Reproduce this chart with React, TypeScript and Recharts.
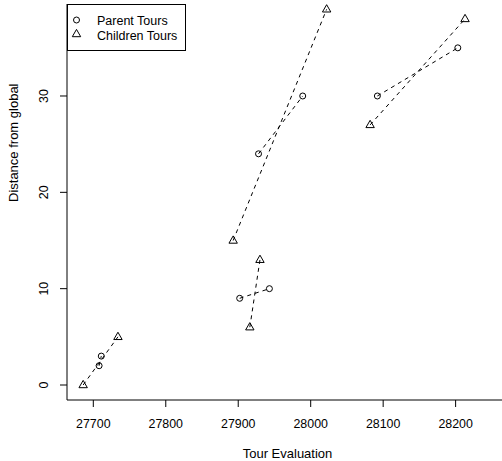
import { ScatterChart, Scatter, XAxis, YAxis } from 'recharts'

// each pair of tours is joined by its own dashed segment
const parentEval = [
  [27708, 27711],
  [27928, 27989],
  [27902, 27943],
  [28092, 28203],
]
const parentDist = [
  [2, 3],
  [24, 30],
  [9, 10],
  [30, 35],
]
const childEval = [
  [27686, 27734],
  [27893, 28022],
  [27916, 27930],
  [28082, 28213],
]
const childDist = [
  [0, 5],
  [15, 39],
  [6, 13],
  [27, 38],
]
const xTicks = [27700, 27800, 27900, 28000, 28100, 28200]
const yTicks = [0, 10, 20, 30]
const legendLabels = ['Parent Tours', 'Children Tours']

const FONT = '"Liberation Sans", Arial, sans-serif'

const toPoints = (xs: number[], ys: number[]) => xs.map((x, i) => ({ x, y: ys[i] }))

const Circle = (props: any) => {
  const { cx, cy } = props
  return <circle cx={cx} cy={cy} r={3} fill="none" stroke="#000" strokeWidth={1} />
}

const Triangle = (props: any) => {
  const { cx, cy } = props
  return (
    <path
      d={`M${cx},${cy - 4.6}L${cx - 4.2},${cy + 2.7}L${cx + 4.2},${cy + 2.7}Z`}
      fill="none"
      stroke="#000"
      strokeWidth={1}
    />
  )
}

const YTick = (props: any) => {
  const { x, y, payload } = props
  return (
    <text
      x={x}
      y={y}
      transform={`rotate(-90, ${x}, ${y})`}
      textAnchor="middle"
      fontSize={12.4}
      fontFamily={FONT}
      fill="#000"
    >
      {payload.value}
    </text>
  )
}

const dash = { stroke: '#000', strokeWidth: 1, strokeDasharray: '4 4' }

export default function App() {
  return (
    <div style={{ position: 'absolute', left: 0, top: 0, width: 502, height: 461, background: '#fff', overflow: 'hidden' }}>
      <ScatterChart width={502} height={461} margin={{ top: 4, right: 0, left: 0, bottom: 0 }}>
        <XAxis
          type="number"
          dataKey="x"
          domain={[27663.7, 28264]}
          allowDataOverflow
          ticks={xTicks}
          tickSize={7}
          tickMargin={12}
          height={61}
          stroke="#000"
          tick={{ fontSize: 12.4, fontFamily: FONT, fill: '#000' }}
          label={{ value: 'Tour Evaluation', position: 'insideBottom', offset: 3, dx: 3, fontSize: 13, fontFamily: FONT, fill: '#000' }}
        />
        <XAxis xAxisId="top" orientation="top" type="number" dataKey="x" height={0} tick={false} tickLine={false} stroke="#000" domain={[27663.7, 28264]} allowDataOverflow />
        <YAxis
          type="number"
          dataKey="y"
          domain={[-1.557, 39.55]}
          allowDataOverflow
          ticks={yTicks}
          tickSize={7}
          width={67}
          stroke="#000"
          tick={<YTick />}
          tickMargin={12}
          label={{ value: 'Distance from global', angle: -90, position: 'insideLeft', offset: 13, fontSize: 13, fontFamily: FONT, fill: '#000' }}
        />
        {parentEval.map((xs, i) => (
          <Scatter
            key={'p' + i}
            data={toPoints(xs, parentDist[i])}
            shape={<Circle />}
            line={dash}
            lineType="joint"
            isAnimationActive={false}
          />
        ))}
        {childEval.map((xs, i) => (
          <Scatter
            key={'c' + i}
            data={toPoints(xs, childDist[i])}
            shape={<Triangle />}
            line={dash}
            lineType="joint"
            isAnimationActive={false}
          />
        ))}
      </ScatterChart>
      <svg width={120} height={48} style={{ position: 'absolute', left: 66.5, top: 3.5 }}>
        <rect x={0.5} y={0.5} width={118} height={46} fill="#fff" stroke="#000" />
        <circle cx={9.5} cy={16} r={3} fill="none" stroke="#000" />
        <path d="M9.5,25.4L5.3,32.7L13.7,32.7Z" fill="none" stroke="#000" />
        {legendLabels.map((t, i) => (
          <text key={t} x={30} y={20.5 + i * 15} fontSize={12.5} fontFamily={FONT} fill="#000">
            {t}
          </text>
        ))}
      </svg>
    </div>
  )
}
